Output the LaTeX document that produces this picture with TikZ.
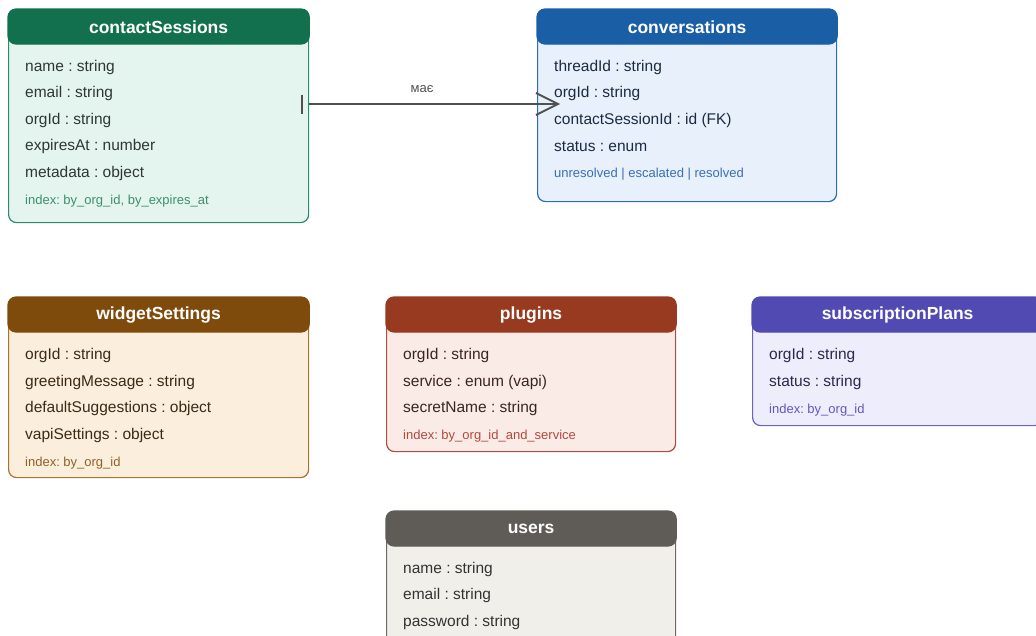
\documentclass[tikz,border=0pt]{standalone}
\usepackage{fontspec}
\setmainfont{Liberation Sans}
\usetikzlibrary{arrows.meta}
\frenchspacing

% palette: header, body, outline, field text, note text per table
\definecolor{csHead}{HTML}{12704F}
\definecolor{csBody}{HTML}{E4F4EE}
\definecolor{csLine}{HTML}{2F8A66}
\definecolor{csText}{HTML}{2E3833}
\definecolor{csNote}{HTML}{3E8F6E}

\definecolor{cvHead}{HTML}{1A5EA6}
\definecolor{cvBody}{HTML}{E7F0FB}
\definecolor{cvLine}{HTML}{2D6CB6}
\definecolor{cvText}{HTML}{1C2B42}
\definecolor{cvNote}{HTML}{3A6FB0}

\definecolor{wsHead}{HTML}{7F4B0D}
\definecolor{wsBody}{HTML}{FCEEDC}
\definecolor{wsLine}{HTML}{A5742F}
\definecolor{wsText}{HTML}{3B2B16}
\definecolor{wsNote}{HTML}{8C6428}

\definecolor{plHead}{HTML}{973A1F}
\definecolor{plBody}{HTML}{FAEBE6}
\definecolor{plLine}{HTML}{AA5040}
\definecolor{plText}{HTML}{3A2520}
\definecolor{plNote}{HTML}{B24A3C}

\definecolor{spHead}{HTML}{514AB2}
\definecolor{spBody}{HTML}{EEEDFB}
\definecolor{spLine}{HTML}{6A62C4}
\definecolor{spText}{HTML}{2B2850}
\definecolor{spNote}{HTML}{6058C0}

\definecolor{usHead}{HTML}{5F5C57}
\definecolor{usBody}{HTML}{F1EFE9}
\definecolor{usLine}{HTML}{6D6A64}
\definecolor{usText}{HTML}{333333}

\definecolor{relgray}{HTML}{505050}

\tikzset{
  erbody/.style={rectangle, draw, rounded corners=8pt, line width=1.2pt,
    anchor=north west, inner sep=0pt},
  ertitle/.style={text=white, inner sep=0pt,
    font=\fontsize{17.5}{20}\selectfont\bfseries},
  erfield/.style={anchor=mid west, inner sep=0pt, yshift=-3pt,
    font=\fontsize{15.5}{18}\selectfont},
  ernote/.style={anchor=mid west, inner sep=0pt, yshift=-2.5pt,
    font=\fontsize{13}{15}\selectfont},
  rel/.style={draw=relgray, line width=1.8pt},
  rellabel/.style={text=relgray, inner sep=0pt,
    font=\fontsize{13}{15}\selectfont}
}

% table frame: id, x, y, width, height, colour prefix, title
\newcommand\erbox[7]{%
  \node[erbody, draw=#6Line, fill=#6Body,
        minimum width=#4pt, minimum height=#5pt] (#1) at (#2,#3) {};
  \filldraw[fill=#6Head, draw=#6Head, line width=1.2pt, rounded corners=8pt]
    (#1.north west) rectangle ([yshift=-35pt]#1.north east);
  \node[ertitle] (#1-title) at ([yshift=-18pt]#1.north) {#7};
}

\begin{document}
\begin{tikzpicture}[x=1pt, y=-1pt]
\useasboundingbox (0,0) rectangle (1036,635);
\clip (0,0) rectangle (1036,635);
\fill[white] (0,0) rectangle (1036,635);

% contactSessions
\erbox{cs}{8}{9}{300}{213}{cs}{contactSessions}
\node[erfield, text=csText] (cs-f1) at (25,66)  {name : string};
\node[erfield, text=csText] (cs-f2) at (25,92)  {email : string};
\node[erfield, text=csText] (cs-f3) at (25,119) {orgId : string};
\node[erfield, text=csText] (cs-f4) at (25,145) {expiresAt : number};
\node[erfield, text=csText] (cs-f5) at (25,172) {metadata : object};
\node[ernote,  text=csNote] (cs-ix) at (25,199) {index: by\_org\_id, by\_expires\_at};

% conversations
\erbox{cv}{537}{9}{299}{192}{cv}{conversations}
\node[erfield, text=cvText] (cv-f1) at (554,66)  {threadId : string};
\node[erfield, text=cvText] (cv-f2) at (554,92)  {orgId : string};
\node[erfield, text=cvText] (cv-f3) at (554,119) {contactSessionId : id (FK)};
\node[erfield, text=cvText] (cv-f4) at (554,146) {status : enum};
\node[ernote,  text=cvNote] (cv-en) at (554,172) {unresolved | escalated | resolved};

% widgetSettings
\erbox{ws}{8}{297}{300}{180}{ws}{widgetSettings}
\node[erfield, text=wsText] (ws-f1) at (25,354) {orgId : string};
\node[erfield, text=wsText] (ws-f2) at (25,381) {greetingMessage : string};
\node[erfield, text=wsText] (ws-f3) at (25,407) {defaultSuggestions : object};
\node[erfield, text=wsText] (ws-f4) at (25,434) {vapiSettings : object};
\node[ernote,  text=wsNote] (ws-ix) at (25,461) {index: by\_org\_id};

% plugins
\erbox{pl}{386}{297}{289}{154}{pl}{plugins}
\node[erfield, text=plText] (pl-f1) at (403,354) {orgId : string};
\node[erfield, text=plText] (pl-f2) at (403,381) {service : enum (vapi)};
\node[erfield, text=plText] (pl-f3) at (403,407) {secretName : string};
\node[ernote,  text=plNote] (pl-ix) at (403,434) {index: by\_org\_id\_and\_service};

% subscriptionPlans
\erbox{sp}{752}{297}{290}{128}{sp}{subscriptionPlans}
\node[erfield, text=spText] (sp-f1) at (769,354) {orgId : string};
\node[erfield, text=spText] (sp-f2) at (769,381) {status : string};
\node[ernote,  text=spNote] (sp-ix) at (769,408) {index: by\_org\_id};

% users
\erbox{us}{386}{511}{289}{140}{us}{users}
\node[erfield, text=usText] (us-f1) at (403,568) {name : string};
\node[erfield, text=usText] (us-f2) at (403,594) {email : string};
\node[erfield, text=usText] (us-f3) at (403,621) {password : string};

% relation contactSessions -> conversations
\coordinate (csOut) at (cs.east |- 0,104);
\coordinate (cvIn)  at ([xshift=23pt]cv.west |- 0,104);
\draw[rel, -{Straight Barb[length=22pt, width=22pt, line width=1.8pt]}]
  (csOut) -- (cvIn);
\draw[draw=relgray, line width=2.4pt]
  ([xshift=-7pt, yshift=9.5pt]csOut) -- ([xshift=-7pt, yshift=-9.5pt]csOut);
\node[rellabel] (rel-lbl) at (422,89) {має};
\end{tikzpicture}
\end{document}
